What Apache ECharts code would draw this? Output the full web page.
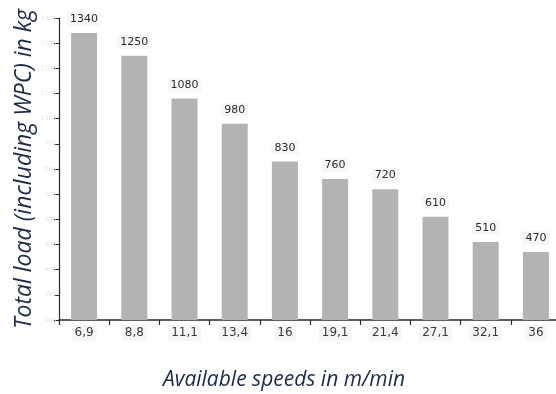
<!DOCTYPE html>
<html>
<head>
<meta charset="utf-8">
<script src="https://cdn.jsdelivr.net/npm/echarts@6/dist/echarts.min.js"></script>
<style>
  html, body { margin: 0; padding: 0; background: #ffffff; }
  #chart { width: 556px; height: 394px; }
</style>
</head>
<body>
<div id="chart"></div>
<script>
// Hoist speeds (m/min) and the maximum total load at each speed (kg)
const speeds = ['6,9', '8,8', '11,1', '13,4', '16', '19,1', '21,4', '27,1', '32,1', '36'];
const loads = [1340, 1250, 1080, 980, 830, 760, 720, 610, 510, 470];

const yTitle = 'Total load (including WPC) in kg';
const xTitle = 'Available speeds in m/min';

const chart = echarts.init(document.getElementById('chart'));
chart.setOption({
  animation: false,
  backgroundColor: '#ffffff',
  grid: { left: 59, right: -5, top: 18, bottom: 74, outerBoundsMode: 'none', containLabel: false },
  xAxis: {
    type: 'category',
    data: speeds,
    name: xTitle,
    nameLocation: 'middle',
    nameGap: 50,
    nameMoveOverlap: false,
    nameTextStyle: {
      fontFamily: 'Open Sans', fontStyle: 'italic', fontSize: 21,
      color: '#1b2a47', padding: [0, 52, 0, 0]
    },
    axisLine: { lineStyle: { color: '#2a2a2a', width: 1.5 } },
    axisTick: { show: true, length: 5, lineStyle: { color: '#2a2a2a', width: 1.2 } },
    axisLabel: {
      margin: 5, fontFamily: 'DejaVu Sans', fontSize: 12, color: '#3a3a3a',
      backgroundColor: '#f6f6f6', padding: [2, 3, 2, 3]
    }
  },
  yAxis: {
    type: 'value',
    min: 200,
    max: 1400,
    interval: 100,
    name: yTitle,
    nameLocation: 'middle',
    nameGap: 23,
    nameMoveOverlap: false,
    nameTextStyle: {
      fontFamily: 'Open Sans', fontStyle: 'italic', fontSize: 23,
      color: '#1b2a47'
    },
    axisLine: { show: true, lineStyle: { color: '#2a2a2a', width: 1.2 } },
    axisTick: { show: true, length: 5, lineStyle: { color: '#2a2a2a', width: 1 } },
    axisLabel: {
      margin: 3, fontSize: 6, color: '#e6e6e6', fontFamily: 'DejaVu Sans',
      formatter: (v) => String(v)
    },
    splitLine: { show: false }
  },
  series: [{
    type: 'bar',
    data: loads,
    barWidth: 26,
    itemStyle: { color: '#b3b3b3' },
    label: {
      show: true,
      position: 'top',
      distance: 7,
      fontFamily: 'DejaVu Sans',
      fontSize: 11,
      color: '#2b2b2b',
      backgroundColor: '#f7f7f7',
      padding: [2, 3, 1, 3]
    }
  }]
});
</script>
</body>
</html>
